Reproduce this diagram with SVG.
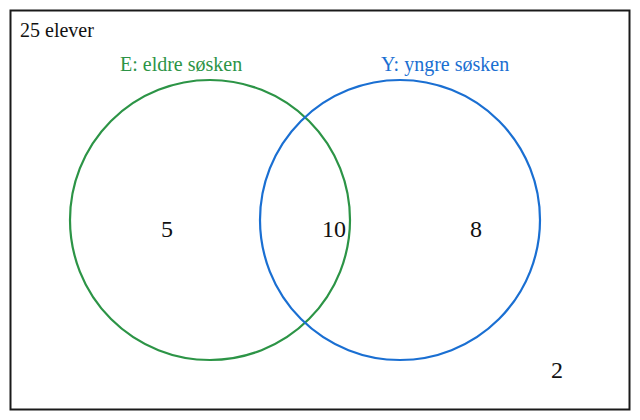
<svg xmlns="http://www.w3.org/2000/svg" width="640" height="420" viewBox="0 0 640 420">
<style>
text{font-family:"Liberation Serif","Times New Roman",serif;fill:#111}
.lbl{font-size:20px}
.num{font-size:24px;text-anchor:middle}
.circ{fill:none;stroke-width:2.2}
</style>
<rect width="640" height="420" fill="#fff"/>
<g id="universe">
<rect x="10.5" y="10.5" width="619" height="399" fill="none" stroke="#1a1a1a" stroke-width="2"/>
<text class="lbl" x="20" y="37">25 elever</text>
<text class="num" x="557" y="378">2</text>
</g>
<g id="setE">
<circle class="circ" cx="210" cy="220" r="140" stroke="#2c9446"/>
<text class="lbl" x="120" y="71" style="fill:#2c9446">E: eldre søsken</text>
<text class="num" x="167" y="237">5</text>
</g>
<g id="setY">
<circle class="circ" cx="400" cy="220" r="140" stroke="#1a6fd2"/>
<text class="lbl" x="381" y="71" style="fill:#1a6fd2">Y: yngre søsken</text>
<text class="num" x="476" y="237">8</text>
</g>
<g id="intersection">
<text class="num" x="334" y="237">10</text>
</g>
<g id="connectors"/>
</svg>
